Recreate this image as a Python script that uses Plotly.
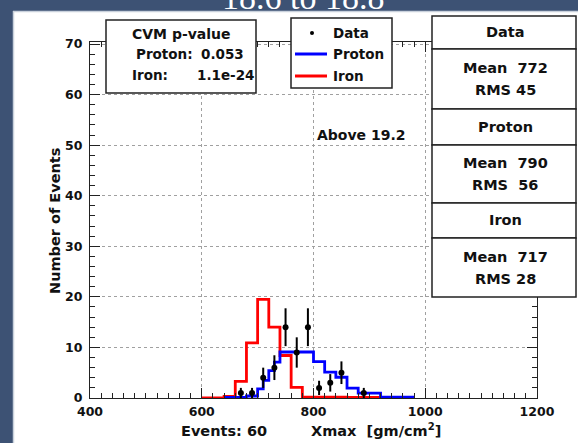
import plotly.graph_objects as go

# ---------------- data ----------------
iron_bin_lo = [600, 620, 640, 660, 680, 700, 720, 740, 760, 780, 800, 820, 840, 860, 880, 900, 920, 940, 960]
iron_counts = [0.0, 0.0, 0.3, 3.3, 10.9, 19.5, 14.0, 8.4, 2.1, 0.15, 0.15, 0.15, 0.15, 0.1, 0.1, 0.1, 0.1, 0.1, 0.1]
iron_end = 980

proton_bin_lo = [640, 680, 700, 710, 720, 730, 740, 800, 820, 840, 860, 880, 920]
proton_counts = [0.1, 0.4, 1.8, 3.5, 5.4, 7.1, 9.1, 7.2, 5.1, 4.1, 1.95, 0.96, 0.17]
proton_end = 980

data_x = [670, 690, 710, 730, 750, 770, 790, 810, 830, 850, 890]
data_n = [1, 1, 4, 6, 14, 9, 14, 2, 3, 5, 1]
data_err = [1.0, 1.0, 2.0, 2.45, 3.74, 3.0, 3.74, 1.41, 1.73, 2.24, 1.0]

x_ticks = [400, 600, 800, 1000, 1200]
y_ticks = [0, 10, 20, 30, 40, 50, 60, 70]

stats_rows = [("Data", "Mean  772", "RMS 45"), ("Proton", "Mean  790", "RMS  56"), ("Iron", "Mean  717", "RMS 28")]

# ---------------- geometry helpers ----------------
W, H = 578, 443
L, R, T, B = 90, 41, 42, 45
PW, PH = W - L - R, H - T - B


def px(x):
    return (x - L) / PW


def py(y):
    return (H - B - y) / PH


FONT = "DejaVu Sans"
BG = "#3d5274"

fig = go.Figure()

fig.add_trace(go.Scatter(
    x=iron_bin_lo + [iron_end], y=iron_counts + [iron_counts[-1]],
    mode="lines", line=dict(color="#ff0000", width=2.8, shape="hv"), hoverinfo="skip"))
fig.add_trace(go.Scatter(
    x=proton_bin_lo + [proton_end], y=proton_counts + [proton_counts[-1]],
    mode="lines", line=dict(color="#0000ff", width=2.8, shape="hv"), hoverinfo="skip"))
fig.add_trace(go.Scatter(
    x=data_x, y=data_n, mode="markers",
    marker=dict(color="black", size=6),
    error_y=dict(type="data", array=data_err, visible=True, color="black", thickness=2, width=0)))

shapes = []
# dark slide background strips
shapes.append(dict(type="rect", xref="paper", yref="paper", x0=px(0), x1=px(W), y0=py(0), y1=py(11),
                   fillcolor=BG, line=dict(width=0), layer="below"))
shapes.append(dict(type="rect", xref="paper", yref="paper", x0=px(0), x1=px(13), y0=py(0), y1=py(H),
                   fillcolor=BG, line=dict(width=0), layer="below"))
shapes.append(dict(type="line", xref="paper", yref="paper", x0=px(13), x1=px(W), y0=py(11.5), y1=py(11.5),
                   line=dict(color="#c9d1dc", width=1.5), layer="below"))
shapes.append(dict(type="line", xref="paper", yref="paper", x0=px(13.5), x1=px(13.5), y0=py(11), y1=py(H),
                   line=dict(color="#c9d1dc", width=1.5), layer="below"))


def box(x0, x1, y0, y1):
    shapes.append(dict(type="rect", xref="paper", yref="paper", x0=px(x0), x1=px(x1), y0=py(y1), y1=py(y0),
                       fillcolor="white", line=dict(color="#222", width=1.5), layer="above"))


box(106, 256, 20, 93)      # CVM box
box(291, 392, 18, 88)      # legend box
row_edges = [16, 49, 109, 145, 203, 238, 297]
for i in range(6):
    box(432, 576, row_edges[i], row_edges[i + 1])

# legend samples
shapes.append(dict(type="line", xref="paper", yref="paper", x0=px(295), x1=px(327), y0=py(54), y1=py(54),
                   line=dict(color="#0000ff", width=3), layer="above"))
shapes.append(dict(type="line", xref="paper", yref="paper", x0=px(295), x1=px(327), y0=py(76), y1=py(76),
                   line=dict(color="#ff0000", width=3), layer="above"))
shapes.append(dict(type="circle", xref="paper", yref="paper", x0=px(310), x1=px(314), y0=py(35), y1=py(31),
                   fillcolor="black", line=dict(width=0), layer="above"))

ann = []


def text(x, y, s, size=15, xanchor="center", color="#111", family=FONT, weight="bold", angle=0):
    ann.append(dict(x=px(x), y=py(y), xref="paper", yref="paper", text=s, showarrow=False,
                    xanchor=xanchor, yanchor="middle", textangle=angle,
                    font=dict(family=family, size=size, color=color, weight=weight)))


# title (cut off at top)
text(303, -3, "18.6 to 18.8", size=34, color="white", family="Liberation Serif", weight="normal")

# CVM box
text(181, 34, "CVM p-value", size=14)
text(134, 54, "Proton:", size=13.5, xanchor="left")
text(199, 54, "0.053", size=13.5, xanchor="left")
text(130, 75, "Iron:", size=13.5, xanchor="left")
text(195, 75, "1.1e-24", size=13.5, xanchor="left")

# legend text
text(331, 33, "Data", size=13.5, xanchor="left")
text(331, 54, "Proton", size=13.5, xanchor="left")
text(331, 76, "Iron", size=13.5, xanchor="left")

# stats table
centers = [(row_edges[i] + row_edges[i + 1]) / 2 for i in range(6)]
for i, (hdr, l1, l2) in enumerate(stats_rows):
    text(505, centers[2 * i], hdr, size=14.5)
    text(505, centers[2 * i + 1] - 11, l1, size=14.5)
    text(505, centers[2 * i + 1] + 11, l2, size=14.5)

text(361, 135, "Above 19.2", size=14)

# axis titles
text(55, 221, "Number of Events", size=14.5, angle=-90)
text(179, 431, "Events: 60", size=14.5, xanchor="left")
text(309, 430, "Xmax  [gm/cm<sup>2</sup>]", size=14.5, xanchor="left")

axis_common = dict(showline=True, linecolor="#222", linewidth=1, mirror="ticks",
                   ticks="inside", tickcolor="#222", ticklen=10, tickwidth=1,
                   showgrid=True, gridcolor="#a0a0a0", griddash="dot", gridwidth=1,
                   zeroline=False, tickfont=dict(family=FONT, size=12.5, color="#111", weight="bold"))

fig.update_layout(
    width=W, height=H, margin=dict(l=L, r=R, t=T, b=B),
    paper_bgcolor="white", plot_bgcolor="white", showlegend=False,
    shapes=shapes, annotations=ann,
    xaxis=dict(range=[400, 1200], tickvals=x_ticks, ticktext=[str(v) for v in x_ticks],
               minor=dict(dtick=20, ticks="inside", ticklen=5, tickcolor="#222", showgrid=False),
               ticklabelstandoff=2, **axis_common),
    yaxis=dict(range=[0, 70.4], tickvals=y_ticks, ticktext=[str(v) for v in y_ticks],
               minor=dict(dtick=2, ticks="inside", ticklen=5, tickcolor="#222", showgrid=False),
               ticklabelstandoff=4, **axis_common),
)

fig.write_html("out.html")
